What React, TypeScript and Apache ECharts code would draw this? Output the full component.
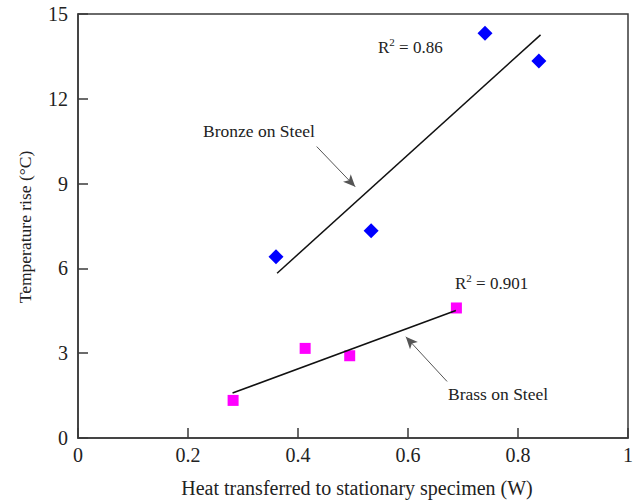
import React, { useEffect, useRef } from "react";
import * as echarts from "echarts";

const bronzeX = [0.36, 0.533, 0.74, 0.838];
const bronzeY = [6.41, 7.33, 14.32, 13.34];
const brassX = [0.282, 0.413, 0.494, 0.688];
const brassY = [1.33, 3.17, 2.91, 4.6];
const bronzeFit = [[0.362, 5.83], [0.841, 14.26]];
const brassFit = [[0.281, 1.59], [0.687, 4.51]];
const bronzeArrow = [[0.434, 10.31], [0.504, 8.89]];
const brassArrow = [[0.671, 2.0], [0.596, 3.58]];
const xTitle = "Heat transferred to stationary specimen (W)";
const yTitle = "Temperature rise (°C)";

const FONT = "'Liberation Serif', 'Times New Roman', serif";

export default function App() {
  const ref = useRef<HTMLDivElement>(null);
  useEffect(() => {
    if (!ref.current) return;
    const chart = echarts.init(ref.current, undefined, { renderer: "svg" });
    const axisCommon = {
      axisLine: { show: true, lineStyle: { color: "#3a3a3a", width: 1.5 } },
      axisTick: { show: true, inside: true, length: 10, lineStyle: { color: "#3a3a3a", width: 1.5 } },
      splitLine: { show: false },
    };
    const arrowLine = (pts: number[][]) => ({
      silent: true,
      symbol: ["none", "arrow"],
      symbolSize: [8, 12],
      label: { show: false },
      lineStyle: { color: "#555", width: 1, type: "solid" },
      data: [[{ coord: pts[0] }, { coord: pts[1] }]],
    });
    const rTxt = (text: string, x: number, y: number) => ({
      type: "text", x, y,
      style: {
        text, fontSize: 17, fontFamily: FONT, fill: "#222", verticalAlign: "middle",
        rich: { s: { fontSize: 11, fontFamily: FONT, verticalAlign: "top", padding: [0, 0, 10, 0] } },
      },
    });
    chart.setOption({
      animation: false,
      backgroundColor: "#fff",
      textStyle: { fontFamily: FONT },
      grid: {
        left: 78, top: 14, right: 10, bottom: 62,
        show: true, borderColor: "#3a3a3a", borderWidth: 1.5,
      },
      xAxis: {
        type: "value", min: 0, max: 1, interval: 0.2,
        ...axisCommon,
        axisLabel: { color: "#222", fontSize: 20, fontFamily: FONT, margin: 7 },
      },
      yAxis: {
        type: "value", min: 0, max: 15, interval: 3,
        ...axisCommon,
        axisLabel: { color: "#222", fontSize: 20, fontFamily: FONT, margin: 10 },
      },
      graphic: [
        {
          type: "text", x: 357, y: 488,
          style: { text: xTitle, fontSize: 20, fontFamily: FONT, fill: "#222", align: "center", verticalAlign: "middle" },
        },
        {
          type: "text", x: 25, y: 227, rotation: Math.PI / 2,
          style: { text: yTitle, fontSize: 17.5, fontFamily: FONT, fill: "#222", align: "center", verticalAlign: "middle" },
        },
        {
          type: "text", x: 203, y: 131,
          style: { text: "Bronze on Steel", fontSize: 17.5, fontFamily: FONT, fill: "#222", verticalAlign: "middle" },
        },
        {
          type: "text", x: 448, y: 394,
          style: { text: "Brass on Steel", fontSize: 17.5, fontFamily: FONT, fill: "#222", verticalAlign: "middle" },
        },
        rTxt("R{s|2} = 0.86", 378, 47),
        rTxt("R{s|2} = 0.901", 455, 283),
      ],
      series: [
        {
          type: "line", data: bronzeFit, symbol: "none",
          lineStyle: { color: "#111", width: 1.5 },
          markLine: arrowLine(bronzeArrow),
        },
        {
          type: "line", data: brassFit, symbol: "none",
          lineStyle: { color: "#111", width: 1.5 },
          markLine: arrowLine(brassArrow),
        },
        {
          type: "scatter", name: "Bronze on Steel", symbol: "diamond", symbolSize: 15,
          itemStyle: { color: "#0000ff", opacity: 1 },
          data: bronzeX.map((x, i) => [x, bronzeY[i]]),
        },
        {
          type: "scatter", name: "Brass on Steel", symbol: "rect", symbolSize: 11,
          itemStyle: { color: "#ff00ff", opacity: 1 },
          data: brassX.map((x, i) => [x, brassY[i]]),
        },
      ],
    });
    return () => chart.dispose();
  }, []);
  return <div ref={ref} style={{ width: 638, height: 500, position: "absolute", left: 0, top: 0 }} />;
}
